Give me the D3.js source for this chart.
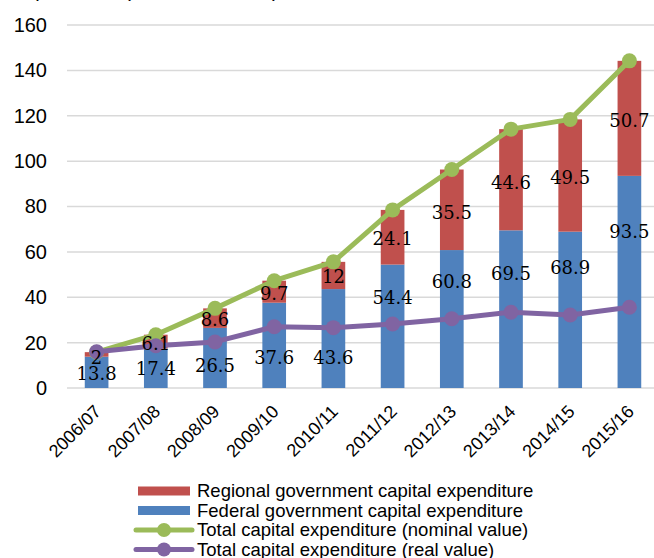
<!DOCTYPE html>
<html>
<head>
<meta charset="utf-8">
<script src="https://cdn.jsdelivr.net/npm/d3@7"></script>
<style>
  body { margin: 0; background: #fff; }
  svg { display: block; }
</style>
</head>
<body>
<svg id="chart" width="654" height="558"></svg>
<script>
// chart data
const years = ["2006/07", "2007/08", "2008/09", "2009/10", "2010/11",
               "2011/12", "2012/13", "2013/14", "2014/15", "2015/16"];
const federal = [13.8, 17.4, 26.5, 37.6, 43.6, 54.4, 60.8, 69.5, 68.9, 93.5];
const regional = [2, 6.1, 8.6, 9.7, 12, 24.1, 35.5, 44.6, 49.5, 50.7];
const nominal = [15.8, 23.5, 35.1, 47.3, 55.6, 78.5, 96.3, 114.1, 118.4, 144.2];
const real = [16, 18.6, 20.3, 27, 26.6, 28.2, 30.5, 33.4, 32.2, 35.6];
const yTicks = [0, 20, 40, 60, 80, 100, 120, 140, 160];

// where the data labels sit (value units, they were moved by hand in the original)
const federalLabelAt = [6.2, 8.4, 9.8, 13.4, 13.4, 39.7, 46.7, 50.2, 52.9, 68.9];
const regionalLabelAt = [13.4, 19.7, 30.0, 41.7, 49.1, 66.0, 77.4, 90.7, 92.9, 117.7];

const legendItems = [
    { name: "Regional government capital expenditure", color: "#C0504D", type: "bar" },
    { name: "Federal government capital expenditure", color: "#4F81BD", type: "bar" },
    { name: "Total capital expenditure (nominal value)", color: "#9BBB59", type: "line" },
    { name: "Total capital expenditure (real value)", color: "#8064A2", type: "line" }
];

const svg = d3.select("#chart");

const x = d3.scaleBand()
    .domain(years)
    .range([67, 659])
    .paddingInner(0.6)
    .paddingOuter(0.3);

const y = d3.scaleLinear()
    .domain([0, 160])
    .range([388, 25]);

// title, mostly cut off at the top of the picture
svg.append("text")
    .attr("x", 12)
    .attr("y", -3)
    .style("font-family", "Liberation Sans, Arial, sans-serif")
    .style("font-size", "20px")
    .text("Expenditure (in billions of Birr)");

// gridlines
svg.append("g")
    .selectAll("line")
    .data(yTicks)
    .enter()
    .append("line")
    .attr("x1", 67)
    .attr("x2", 654)
    .attr("y1", d => y(d))
    .attr("y2", d => y(d))
    .attr("stroke", "#D9D9D9")
    .attr("stroke-width", 1.5);

// y axis labels
const yAxis = svg.append("g")
    .attr("transform", "translate(67,0)")
    .call(d3.axisLeft(y).tickValues(yTicks).tickSize(0).tickPadding(20));
yAxis.select(".domain").remove();
yAxis.selectAll("text")
    .style("font-family", "Liberation Sans, Arial, sans-serif")
    .style("font-size", "20px")
    .attr("fill", "#000");

// x axis labels
const xAxis = svg.append("g")
    .attr("transform", "translate(0,388)")
    .call(d3.axisBottom(x).tickSize(0));
xAxis.select(".domain").remove();
xAxis.selectAll("text")
    .style("font-family", "Liberation Sans, Arial, sans-serif")
    .style("font-size", "18px")
    .attr("fill", "#000")
    .attr("text-anchor", "end")
    .attr("dy", "0.35em")
    .attr("transform", "translate(-1,18) rotate(-45)");

// stacked bars
const bars = svg.append("g");
bars.selectAll("rect.federal")
    .data(federal)
    .enter()
    .append("rect")
    .attr("class", "federal")
    .attr("x", (d, i) => x(years[i]))
    .attr("width", x.bandwidth())
    .attr("y", d => y(d))
    .attr("height", d => y(0) - y(d))
    .attr("fill", "#4F81BD");

bars.selectAll("rect.regional")
    .data(regional)
    .enter()
    .append("rect")
    .attr("class", "regional")
    .attr("x", (d, i) => x(years[i]))
    .attr("width", x.bandwidth())
    .attr("y", (d, i) => y(d + federal[i]))
    .attr("height", (d, i) => y(federal[i]) - y(d + federal[i]))
    .attr("fill", "#C0504D");

// lines with markers
function drawLine(values, color) {
    const line = d3.line()
        .x((d, i) => x(years[i]) + x.bandwidth() / 2)
        .y(d => y(d));
    svg.append("path")
        .datum(values)
        .attr("d", line)
        .attr("fill", "none")
        .attr("stroke", color)
        .attr("stroke-width", 5)
        .attr("stroke-linejoin", "round");
    svg.append("g")
        .selectAll("circle")
        .data(values)
        .enter()
        .append("circle")
        .attr("cx", (d, i) => x(years[i]) + x.bandwidth() / 2)
        .attr("cy", d => y(d))
        .attr("r", 7.5)
        .attr("fill", color);
}
drawLine(nominal, "#9BBB59");
drawLine(real, "#8064A2");

// data labels
function drawLabels(values, at) {
    svg.append("g")
        .selectAll("text")
        .data(values)
        .enter()
        .append("text")
        .attr("x", (d, i) => x(years[i]) + x.bandwidth() / 2)
        .attr("y", (d, i) => y(at[i]))
        .attr("dy", "0.35em")
        .attr("text-anchor", "middle")
        .style("font-family", "DejaVu Serif, serif")
        .style("font-size", "18px")
        .text(d => d);
}
drawLabels(federal, federalLabelAt);
drawLabels(regional, regionalLabelAt);

// legend
const legend = svg.append("g");
legendItems.forEach((item, i) => {
    const ly = 491 + i * 19.5;
    if (item.type === "bar") {
        legend.append("rect")
            .attr("x", 138)
            .attr("y", ly - 4.5)
            .attr("width", 52)
            .attr("height", 9)
            .attr("fill", item.color);
    } else {
        legend.append("line")
            .attr("x1", 136)
            .attr("x2", 192)
            .attr("y1", ly)
            .attr("y2", ly)
            .attr("stroke", item.color)
            .attr("stroke-width", 5)
            .attr("stroke-linecap", "round");
        legend.append("circle")
            .attr("cx", 164)
            .attr("cy", ly)
            .attr("r", 7)
            .attr("fill", item.color);
    }
    legend.append("text")
        .attr("x", 197)
        .attr("y", ly)
        .attr("dy", "0.35em")
        .style("font-family", "Liberation Sans, Arial, sans-serif")
        .style("font-size", "18.5px")
        .text(item.name);
});
</script>
</body>
</html>
